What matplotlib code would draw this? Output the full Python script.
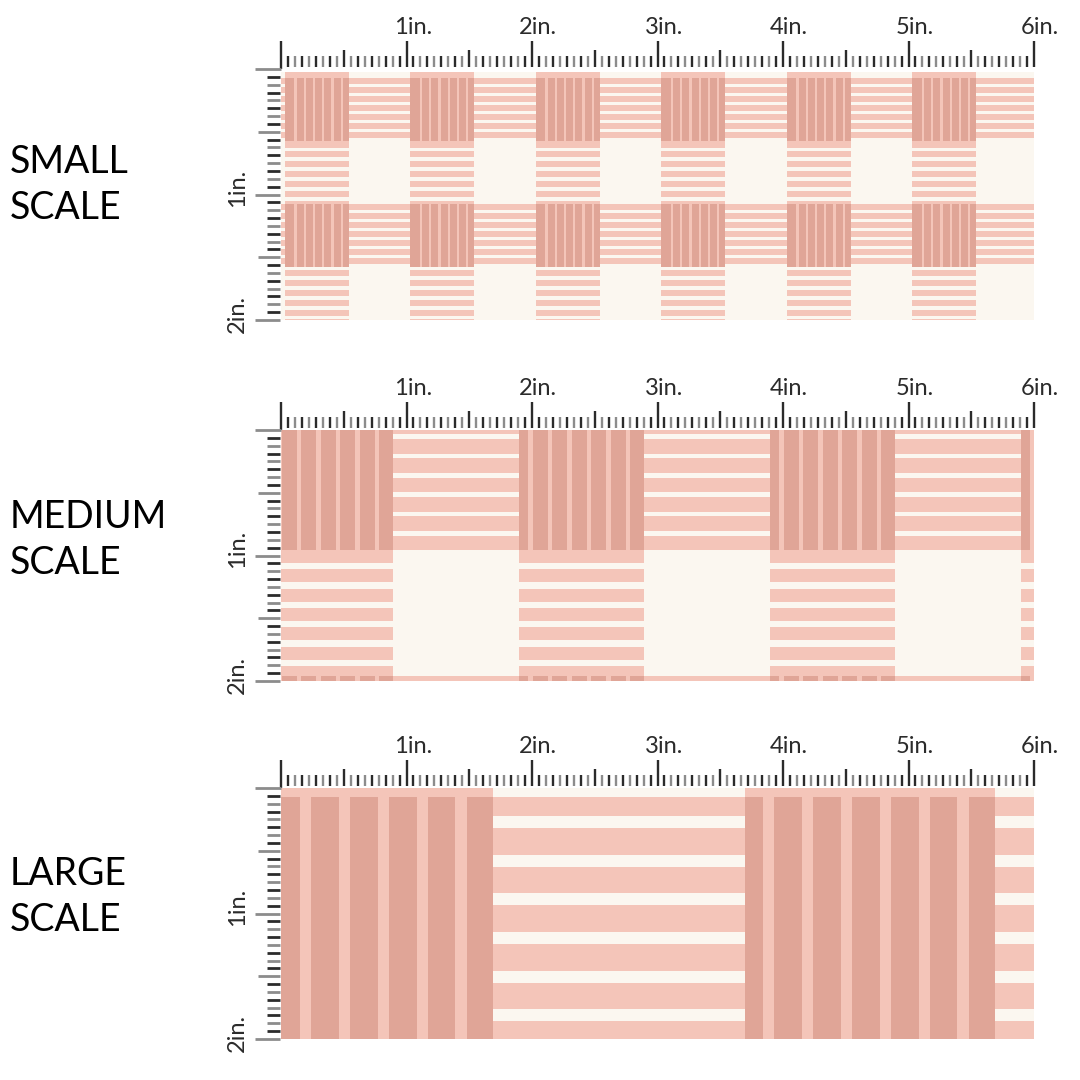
import numpy as np
import matplotlib.pyplot as plt

plt.rcParams['font.family'] = ['Lato', 'DejaVu Sans']

CREAM = '#fbf7f0'
PINK = '#f4c5b9'
DARK = '#e0a597'
INK = '#2b2b2b'
GREY = '#8c8c8c'

W = 1080

## panel data (all in inches of the fabric)
scale_names = ['SMALL\nSCALE', 'MEDIUM\nSCALE', 'LARGE\nSCALE']
label_y_px = [185, 540, 897]
panel_top_px = [69, 430, 788]
pattern_top = [0.02, 0.0, 0.0]

# vertical blocks
col_starts = [[0.03, 1.03, 2.03, 3.03, 4.03, 5.03],
              [-0.10, 1.90, 3.90, 5.90],
              [-0.30, 3.70]]
col_width = [0.51, 0.99, 1.99]

# horizontal bands
row_starts = [[0.07, 1.075], [-0.05, 1.96], [0.07]]
row_width = [0.505, 1.01, 2.0]

# pink bars inside the vertical blocks
col_bar_phase = [0.021, 0.032, 0.0]
col_bar_period = [0.079, 0.154, 0.31]
col_bar_thick = [0.052, 0.104, 0.07]

# cream gaps inside the horizontal bands
band_gap_first = [0.05, 0.085, 0.153]
band_gap_period = [0.072, 0.154, 0.308]
band_gap_thick = [0.02, 0.036, 0.095]

# light lines inside the crossing squares
dark_line_first = [0.076, 0.072, 0.14]
dark_line_period = [0.074, 0.155, 0.31]
dark_line_width = [0.018, 0.036, 0.09]

inch_labels = [f'{n}in.' for n in range(1, 7)]
side_labels = ['1in.', '2in.']

fig = plt.figure(figsize=(10.8, 10.8), dpi=100)
fig.patch.set_facecolor('white')

for i in range(3):
    top = panel_top_px[i]
    ax = fig.add_axes([281 / W, 1 - (top + 251) / W, 753 / W, 251 / W])
    ax.set_xlim(0, 6)
    ax.set_ylim(2.0, 0)
    ax.axis('off')
    pt = pattern_top[i]

    # background
    ax.axhspan(pt, 2.0, color=CREAM, lw=0)

    # pink bars in the columns
    ys = np.arange(col_bar_phase[i], 2.0, col_bar_period[i])
    for c in col_starts[i]:
        ax.barh(ys, col_width[i], height=col_bar_thick[i], left=c,
                align='edge', color=PINK, lw=0)

    # horizontal bands
    for r in row_starts[i]:
        end = r + row_width[i]
        ax.axhspan(max(r, pt), end, color=PINK, lw=0)
        gaps = np.arange(r + band_gap_first[i], end, band_gap_period[i])
        gaps = gaps[gaps + band_gap_thick[i] <= end]
        ax.barh(gaps, 6, height=band_gap_thick[i], left=0,
                align='edge', color=CREAM, lw=0)

    # crossing squares
    for c in col_starts[i]:
        for r in row_starts[i]:
            r0 = max(r, pt)
            h = r + row_width[i] - r0
            ax.bar(c, h, width=col_width[i], bottom=r0, align='edge',
                   color=DARK, lw=0)
            xs = np.arange(c + dark_line_first[i], c + col_width[i], dark_line_period[i])
            xs = xs[xs + dark_line_width[i] <= c + col_width[i]]
            ax.bar(xs, h, width=dark_line_width[i], bottom=r0, align='edge',
                   color=PINK, lw=0)

    # top ruler
    k = np.arange(0, 6 * 18 + 1)
    xt = k / 18
    length = np.where(k % 18 == 0, 0.21, np.where(k % 9 == 0, 0.135, 0.085))
    cols = np.where((k % 2 == 1) | (k % 9 == 0), INK, GREY)
    base = np.where(k == 0, 0.0, -0.015)
    ax.vlines(xt, -0.015 - length, base, colors=cols, lw=1.7, clip_on=False)

    # left ruler
    j = np.arange(0, 33)
    yt = j / 16
    length = np.where(j % 16 == 0, 0.2, np.where(j % 8 == 0, 0.175, 0.105))
    cols = np.where(j % 2 == 1, INK, GREY)
    ends = np.where(j == 0, 0.0, -0.008)
    ax.hlines(yt, -0.008 - length, ends, colors=cols, lw=2.0, clip_on=False)

    for n, lab in enumerate(inch_labels, start=1):
        ax.text(n + 0.05, -0.33, lab, ha='center', va='center',
                fontsize=17, color=INK)
    for n, lab in enumerate(side_labels, start=1):
        ax.text(-0.35, n - 0.05, lab, ha='center', va='center', rotation=90,
                fontsize=17, color=INK)

    fig.text(10 / W, 1 - label_y_px[i] / W, scale_names[i], ha='left', va='center',
             fontsize=27, color='black', linespacing=1.35)

fig.savefig('out.png', dpi=100, facecolor='white')
